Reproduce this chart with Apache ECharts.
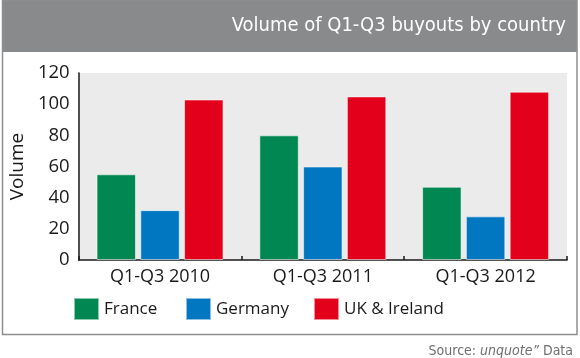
<!DOCTYPE html>
<html>
<head>
<meta charset="utf-8">
<script src="https://cdn.jsdelivr.net/npm/echarts@6/dist/echarts.min.js"></script>
<style>html,body{margin:0;padding:0;background:#fff}#c{width:580px;height:358px}</style>
</head>
<body>
<div id="c"></div>
<script>
var categories = ['Q1-Q3 2010', 'Q1-Q3 2011', 'Q1-Q3 2012'];
var seriesNames = ['France', 'Germany', 'UK & Ireland'];
var france = [55, 80, 47];
var germany = [32, 60, 28];
var ukIreland = [103, 105, 108];
var yTicks = [0, 20, 40, 60, 80, 100, 120];
var titleText = 'Volume of Q1-Q3 buyouts by country';
var yAxisTitle = 'Volume';

var colors = ['#008752', '#0077c0', '#e2001a'];
var values = [france, germany, ukIreland];
var axisFont = '"Open Sans", "Noto Sans", sans-serif';
var condFont = '"DejaVu Sans Condensed", "Liberation Sans Narrow", sans-serif';

var chart = echarts.init(document.getElementById('c'), null, {renderer: 'canvas'});
var legendLefts = [73, 185, 313];

var option = {
  animation: false,
  backgroundColor: '#fff',
  grid: {left: 76, right: 13, top: 73, bottom: 98, show: true, backgroundColor: '#ebebeb', borderWidth: 0},
  legend: seriesNames.map(function (n, i) {
    return {
      data: [n], left: legendLefts[i], top: 297, itemWidth: 25, itemHeight: 22, itemGap: 0,
      icon: 'rect', textStyle: {fontFamily: axisFont, fontSize: 17, color: '#1a1a1a'},
      padding: 0
    };
  }),
  xAxis: {
    type: 'category', data: categories,
    axisLine: {lineStyle: {color: '#1a1a1a', width: 1.5}},
    axisTick: {show: true, inside: true, length: 4, lineStyle: {color: '#1a1a1a', width: 1.5}},
    axisLabel: {fontFamily: axisFont, fontSize: 18, color: '#1a1a1a', margin: 8}
  },
  yAxis: {
    type: 'value', min: yTicks[0], max: yTicks[yTicks.length - 1], interval: yTicks[1] - yTicks[0],
    name: yAxisTitle, nameLocation: 'middle', nameGap: 44, nameRotate: 90,
    nameTextStyle: {fontFamily: axisFont, fontSize: 19, color: '#1a1a1a'},
    axisLine: {show: true, lineStyle: {color: '#1a1a1a', width: 1.5}},
    axisTick: {show: false},
    splitLine: {show: false},
    axisLabel: {fontFamily: axisFont, fontSize: 18.5, color: '#1a1a1a', margin: 9}
  },
  series: seriesNames.map(function (n, i) {
    return {
      name: n, type: 'bar', data: values[i], barGap: '11%', barCategoryGap: '22%',
      itemStyle: {color: colors[i], borderColor: 'rgba(255,255,255,0.55)', borderWidth: 1}
    };
  }),
  graphic: [
    {type: 'rect', z: -1, shape: {x: 2, y: 0, width: 575, height: 52}, style: {fill: '#898a8c'}},
    {type: 'rect', z: 100, shape: {x: 2.5, y: 0.5, width: 574.5, height: 334}, style: {fill: null, stroke: '#8e8e8e', lineWidth: 1.5}},
    {type: 'text', z: 101, x: 566, y: 26, style: {text: titleText, fill: '#ffffff', font: '20px ' + condFont, textAlign: 'right', textVerticalAlign: 'middle'}},
    {type: 'text', z: 101, x: 573, y: 351, style: {
      text: '{a|Source: }{b|unquote\u201d}{a| Data}', textAlign: 'right', textVerticalAlign: 'middle', fill: '#6d6e70',
      rich: {
        a: {fontFamily: condFont, fontSize: 14, fill: '#6d6e70'},
        b: {fontFamily: condFont, fontSize: 14, fontStyle: 'italic', fill: '#6d6e70'}
      }
    }}
  ]
};
chart.setOption(option);
</script>
</body>
</html>
